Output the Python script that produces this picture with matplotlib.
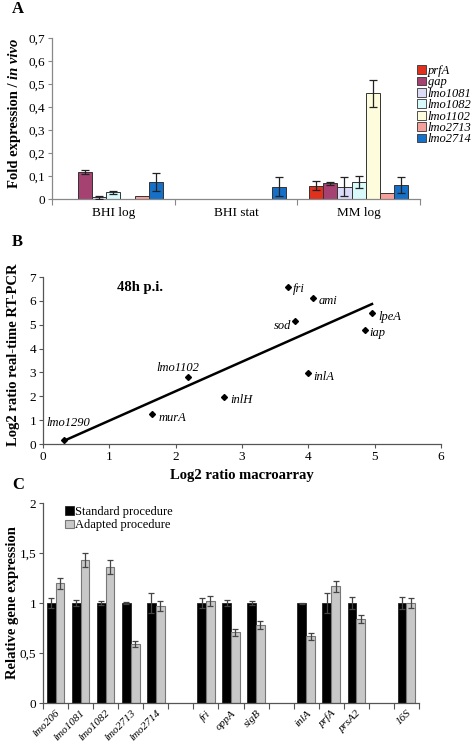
import numpy as np
import matplotlib
matplotlib.use('Agg')
import matplotlib.pyplot as plt
from matplotlib.patches import Patch
import matplotlib.transforms as mtransforms

plt.rcParams['font.family'] = ['Liberation Serif', 'DejaVu Serif']

# ---------------- Panel A data ----------------
a_conditions = ['BHI log', 'BHI stat', 'MM log']
a_genes = ['prfA', 'gap', 'lmo1081', 'lmo1082', 'lmo1102', 'lmo2713', 'lmo2714']
a_colors = ['#e0301e', '#a54272', '#dcdcf8', '#d8fafa', '#fdfcdc', '#f5a09a', '#1670c8']
a_prfA = [0.001, 0.002, 0.058]
a_prfA_err = [0, 0, 0.021]
a_gap = [0.117, 0.002, 0.068]
a_gap_err = [0.007, 0, 0.008]
a_lmo1081 = [0.007, 0.002, 0.053]
a_lmo1081_err = [0.006, 0, 0.042]
a_lmo1082 = [0.029, 0.002, 0.075]
a_lmo1082_err = [0.006, 0, 0.026]
a_lmo1102 = [0.002, 0.002, 0.459]
a_lmo1102_err = [0, 0, 0.06]
a_lmo2713 = [0.012, 0.002, 0.026]
a_lmo2713_err = [0, 0, 0]
a_lmo2714 = [0.074, 0.053, 0.059]
a_lmo2714_err = [0.041, 0.042, 0.035]
a_yticklabels = ['0', '0,1', '0,2', '0,3', '0,4', '0,5', '0,6', '0,7']

# ---------------- Panel B data ----------------
b_genes = ['lmo1290', 'murA', 'lmo1102', 'inlH', 'fri', 'sod', 'inlA', 'ami', 'iap', 'lpeA']
b_macroarray = [0.32, 1.65, 2.18, 2.73, 3.70, 3.80, 4.00, 4.07, 4.85, 4.96]
b_rtpcr = [0.17, 1.26, 2.82, 1.95, 6.58, 5.15, 2.96, 6.10, 4.77, 5.51]

# ---------------- Panel C data ----------------
nan = np.nan
c_genes = ['lmo206', 'lmo1081', 'lmo1082', 'lmo2713', 'lmo2714', '', 'fri', 'oppA', 'sigB', '',
           'inlA', 'prfA', 'prsA2', '', '16S']
c_standard = [1, 1, 1, 1, 1, nan, 1, 1, 1, nan, 1, 1, 1, nan, 1]
c_standard_err = [0.05, 0.03, 0.022, 0.007, 0.1, nan, 0.05, 0.03, 0.023, nan, 0.005, 0.1, 0.063, nan, 0.063]
c_adapted = [1.197, 1.43, 1.36, 0.59, 0.97, nan, 1.017, 0.71, 0.78, nan, 0.667, 1.17, 0.837, nan, 1.0]
c_adapted_err = [0.055, 0.07, 0.07, 0.03, 0.05, nan, 0.05, 0.035, 0.04, nan, 0.035, 0.055, 0.04, nan, 0.05]
c_yticklabels = ['0', '0,5', '1', '1,5', '2']

W, H = 472, 745
fig = plt.figure(figsize=(W / 100, H / 100), dpi=100)


def ax_rect(left, top, right, bottom):
    return [left / W, 1 - bottom / H, (right - left) / W, (bottom - top) / H]


# ================= Panel A =================
axA = fig.add_axes(ax_rect(52, 38, 420, 199))
a_series = [(a_prfA, a_prfA_err), (a_gap, a_gap_err), (a_lmo1081, a_lmo1081_err),
            (a_lmo1082, a_lmo1082_err), (a_lmo1102, a_lmo1102_err),
            (a_lmo2713, a_lmo2713_err), (a_lmo2714, a_lmo2714_err)]
xa = np.arange(len(a_conditions))
bw = 0.116
n = len(a_genes)
handles = []
for k, ((vals, errs), g, c) in enumerate(zip(a_series, a_genes, a_colors)):
    pos = xa + (k - (n - 1) / 2) * bw
    axA.bar(pos, vals, width=bw, color=c, edgecolor='#333333', linewidth=0.7, zorder=2)
    errs_arr = np.array(errs, dtype=float)
    m = errs_arr > 0
    if m.any():
        axA.errorbar(pos[m], np.array(vals)[m], yerr=errs_arr[m], fmt='none',
                     ecolor='#222222', elinewidth=0.9, capsize=3, capthick=0.9, zorder=3)
    handles.append(Patch(facecolor=c, edgecolor='#333333', linewidth=0.6, label=g))
axA.set_xlim(-0.5, 2.5)
axA.set_ylim(0, 0.7)
axA.set_yticks(np.arange(0, 0.71, 0.1))
axA.set_yticklabels(a_yticklabels, fontsize=9.5)
axA.set_xticks(xa)
axA.set_xticklabels(a_conditions, fontsize=9.5)
axA.tick_params(axis='x', which='major', length=0, pad=6)
axA.set_xticks([-0.5, 0.5, 1.5, 2.5], minor=True)
axA.tick_params(axis='x', which='minor', length=4, color='#888888', width=0.8)
axA.tick_params(axis='y', length=3, color='#888888', width=0.8, pad=2)
for s in ['top', 'right']:
    axA.spines[s].set_visible(False)
for s in ['left', 'bottom']:
    axA.spines[s].set_color('#888888')
    axA.spines[s].set_linewidth(0.9)
legA = fig.legend(handles=handles, loc='upper left', bbox_to_anchor=(417 / W, 1 - 65 / H),
                  frameon=False, fontsize=9, handlelength=0.7, handleheight=0.7,
                  handletextpad=0.15, labelspacing=-0.05, borderpad=0, borderaxespad=0)
for t in legA.get_texts():
    t.set_fontstyle('italic')

# Y label with italic part
t1 = fig.text(15 / W, 1 - 188 / H, 'Fold expression / ', rotation=90, ha='center', va='bottom',
              fontsize=10.5, fontweight='bold')
fig.canvas.draw()
bb = t1.get_window_extent()
t2 = fig.text(15 / W, bb.y1 / H, 'in vivo', rotation=90, ha='center', va='bottom',
              fontsize=10.5, fontweight='bold', fontstyle='italic')

fig.text(12 / W, 1 - 9 / H, 'A', fontsize=12, fontweight='bold', va='center', ha='left')

# ================= Panel B =================
axB = fig.add_axes(ax_rect(43, 277, 441, 444))
bx = np.array(b_macroarray)
by = np.array(b_rtpcr)
coef = np.polyfit(bx, by, 1)
xl = np.array([bx.min(), bx.max()])
axB.plot(xl, np.polyval(coef, xl), color='black', linewidth=1.8, zorder=2)
axB.plot(bx, by, linestyle='none', marker='D', markersize=3, color='black', zorder=3)
b_offsets = {
    'lmo1290': (4, 17, 'center'), 'murA': (6, -4, 'left'), 'lmo1102': (-10, 9, 'center'),
    'inlH': (6, -3, 'left'), 'fri': (4, -2, 'left'), 'sod': (-4, -5, 'right'),
    'inlA': (5, -4, 'left'), 'ami': (6, -3, 'left'), 'iap': (5, -3, 'left'), 'lpeA': (6, -4, 'left'),
}
for g, x, y in zip(b_genes, bx, by):
    dx, dy, ha = b_offsets[g]
    axB.annotate(g, (x, y), xytext=(dx, dy), textcoords='offset pixels', ha=ha, va='center',
                 fontsize=9, fontstyle='italic')
fig.text(140 / W, 1 - 288 / H, '48h p.i.', fontsize=10.5, fontweight='bold',
         ha='center', va='center')
axB.set_xlim(0, 6)
axB.set_ylim(0, 7)
axB.set_xticks(range(0, 7))
axB.set_yticks(range(0, 8))
axB.tick_params(labelsize=9.5, length=3, color='#555555', width=0.8, pad=2)
for s in ['top', 'right']:
    axB.spines[s].set_visible(False)
for s in ['left', 'bottom']:
    axB.spines[s].set_color('#555555')
    axB.spines[s].set_linewidth(0.9)
axB.set_xlabel('Log2 ratio macroarray', fontsize=10.5, fontweight='bold', labelpad=4)
fig.text(14 / W, 1 - 355 / H, 'Log2 ratio real-time RT-PCR', rotation=90, ha='center', va='center',
         fontsize=10.5, fontweight='bold')
fig.text(12 / W, 1 - 242 / H, 'B', fontsize=12, fontweight='bold', va='center', ha='left')

# ================= Panel C =================
axC = fig.add_axes(ax_rect(43, 503, 419, 703))
xc = np.arange(len(c_genes))
cs = np.array(c_standard, dtype=float)
ca = np.array(c_adapted, dtype=float)
cse = np.array(c_standard_err, dtype=float)
cae = np.array(c_adapted_err, dtype=float)
mask = ~np.isnan(cs)
cw = 0.35
axC.bar(xc[mask] - cw / 2, cs[mask], width=cw, color='black', edgecolor='#222222', linewidth=0.6,
        label='Standard procedure', zorder=2)
axC.bar(xc[mask] + cw / 2, ca[mask], width=cw, color='#c8c8c8', edgecolor='#777777', linewidth=0.8,
        label='Adapted procedure', zorder=2)
axC.errorbar(xc[mask] - cw / 2, cs[mask], yerr=cse[mask], fmt='none', ecolor='#444444',
             elinewidth=0.9, capsize=2.5, capthick=0.9, zorder=3)
axC.errorbar(xc[mask] + cw / 2, ca[mask], yerr=cae[mask], fmt='none', ecolor='#444444',
             elinewidth=0.9, capsize=2.5, capthick=0.9, zorder=3)
axC.set_xlim(-0.5, len(c_genes) - 0.5)
axC.set_ylim(0, 2)
axC.set_yticks([0, 0.5, 1, 1.5, 2])
axC.set_yticklabels(c_yticklabels, fontsize=9.5)
axC.set_xticks(xc)
axC.set_xticklabels(c_genes, rotation=45, ha='right', va='top', rotation_mode='anchor',
                    fontsize=8, fontstyle='italic')
shift = mtransforms.ScaledTranslation(4 / 100, 0, fig.dpi_scale_trans)
for lab in axC.get_xticklabels():
    lab.set_transform(lab.get_transform() + shift)
axC.tick_params(axis='x', which='major', length=0, pad=4)
axC.set_xticks(np.arange(-0.5, len(c_genes), 1.0), minor=True)
axC.tick_params(axis='x', which='minor', length=4, color='#555555', width=0.8)
axC.tick_params(axis='y', length=3, color='#555555', width=0.8, pad=2)
for s in ['top', 'right']:
    axC.spines[s].set_visible(False)
for s in ['left', 'bottom']:
    axC.spines[s].set_color('#555555')
    axC.spines[s].set_linewidth(0.9)
axC.legend(loc='upper left', bbox_to_anchor=(0.058, 0.985), frameon=False, fontsize=9,
           handlelength=0.7, handleheight=0.7, handletextpad=0.15, labelspacing=0.1,
           borderpad=0, borderaxespad=0)
fig.text(13 / W, 1 - 603 / H, 'Relative gene expression', rotation=90, ha='center', va='center',
         fontsize=10.5, fontweight='bold')
fig.text(12 / W, 1 - 485 / H, 'C', fontsize=12, fontweight='bold', va='center', ha='left')

fig.savefig('out.png', dpi=100, facecolor='white')
